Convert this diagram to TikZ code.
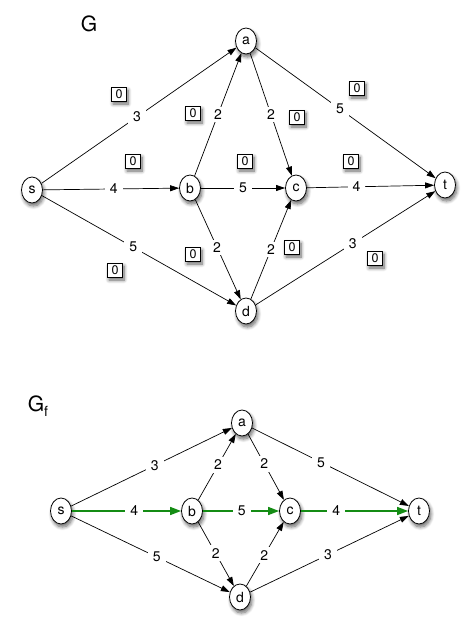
\documentclass[tikz,border=0pt]{standalone}
\usepackage{fontspec}
\setmainfont{TeX Gyre Heros}
\usetikzlibrary{arrows.meta,shapes.geometric,shadows.blur}
\definecolor{flowgreen}{RGB}{20,140,20}
\tikzset{
  vert/.style={ellipse, draw, fill=white, line width=0.8pt, minimum width=21pt, minimum height=26pt, inner sep=0pt,
    font=\fontsize{14}{14}\selectfont,
    blur shadow={shadow xshift=1.5pt, shadow yshift=-3pt, shadow blur steps=8, shadow opacity=60, shadow blur radius=3.5pt}},
  zbox/.style={rectangle, draw, fill=white, line width=0.8pt, minimum width=15pt, minimum height=14pt, inner sep=0pt,
    font=\fontsize{12.5}{12.5}\selectfont,
    blur shadow={shadow xshift=1.5pt, shadow yshift=-3pt, shadow blur steps=8, shadow opacity=60, shadow blur radius=3.5pt}},
  edge/.style={draw, line width=0.7pt, -{Triangle[length=9pt,width=6pt]}},
  flow/.style={draw, line width=1.5pt, flowgreen, -{Triangle[length=11pt,width=8pt]}},
  lab/.style={fill=white, inner xsep=5pt, inner ysep=3pt, text=black, font=\fontsize{14}{14}\selectfont},
  title/.style={font=\fontsize{21}{21}\selectfont}
}
\begin{document}
\begin{tikzpicture}[x=1pt,y=-1pt]
\useasboundingbox (0,0) rectangle (476,632);
% ---------- top graph G ----------
\node[title] (G) at (89,24) {G};
\node[vert] (s) at (32,190) {s};
\node[vert] (a) at (246,41) {a};
\node[vert] (b) at (190,188) {b};
\node[vert] (c) at (296,188) {c};
\node[vert] (t) at (445,185) {t};
\node[vert] (d) at (246,311) {d};
\draw[edge] (s) -- node[lab,pos=0.49] {3} (a);
\draw[edge] (s) -- node[lab,pos=0.52] {4} (b);
\draw[edge] (s) -- node[lab,pos=0.47] {5} (d);
\draw[edge] (b) -- node[lab,pos=0.5] {2} (a);
\draw[edge] (a) -- node[lab,pos=0.5] {2} (c);
\draw[edge] (a) -- node[lab,pos=0.47] {5} (t);
\draw[edge] (b) -- node[lab,pos=0.5] {5} (c);
\draw[edge] (c) -- node[lab,pos=0.39] {4} (t);
\draw[edge] (b) -- node[lab,pos=0.48] {2} (d);
\draw[edge] (d) -- node[lab,pos=0.5] {2} (c);
\draw[edge] (d) -- node[lab,pos=0.54] {3} (t);
\node[zbox] (z1) at (119,94) {0};
\node[zbox] (z2) at (193,113) {0};
\node[zbox] (z3) at (133,161) {0};
\node[zbox] (z4) at (357,88) {0};
\node[zbox] (z5) at (297,117) {0};
\node[zbox] (z6) at (245,161) {0};
\node[zbox] (z7) at (351,161) {0};
\node[zbox] (z8) at (193,254) {0};
\node[zbox] (z9) at (115,270) {0};
\node[zbox] (z10) at (292,247) {0};
\node[zbox] (z11) at (375,258) {0};
% ---------- bottom graph Gf ----------
\node[title] (Gf) at (38,406) {G\raisebox{-5pt}{\fontsize{14}{14}\selectfont f}};
\node[vert] (s2) at (61,511) {s};
\node[vert] (a2) at (242,423) {a};
\node[vert] (b2) at (192,511) {b};
\node[vert] (c2) at (290,511) {c};
\node[vert] (t2) at (419,511) {t};
\node[vert] (d2) at (240,597) {d};
\draw[edge] (s2) -- node[lab,pos=0.52] {3} (a2);
\draw[edge] (b2) -- node[lab,pos=0.53] {2} (a2);
\draw[edge] (a2) -- node[lab,pos=0.45] {2} (c2);
\draw[edge] (a2) -- node[lab,pos=0.44] {5} (t2);
\draw[edge] (s2) -- node[lab,pos=0.54] {5} (d2);
\draw[edge] (b2) -- node[lab,pos=0.49] {2} (d2);
\draw[edge] (d2) -- node[lab,pos=0.48] {2} (c2);
\draw[edge] (d2) -- node[lab,pos=0.49] {3} (t2);
\draw[flow] (s2) -- node[lab,pos=0.57] {4} (b2);
\draw[flow] (b2) -- node[lab,pos=0.51] {5} (c2);
\draw[flow] (c2) -- node[lab,pos=0.33] {4} (t2);
\end{tikzpicture}
\end{document}
